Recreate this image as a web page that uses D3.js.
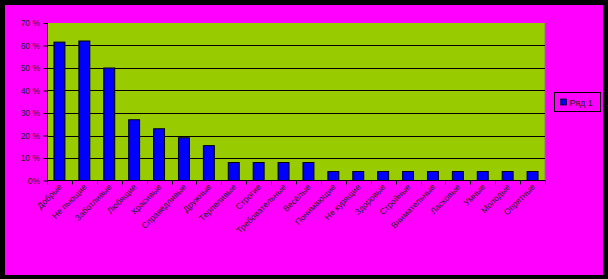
<!DOCTYPE html>
<html><head><meta charset="utf-8">
<script src="https://cdn.jsdelivr.net/npm/d3@7"></script>
<style>body{margin:0;background:#000;}svg{display:block;}</style>
</head><body>
<script>
const cats = ["Добрые","Не пьющие","Заботливые","Любящие","Красивые","Справедливые","Дружные","Терпеливые","Строгие","Требовательные","Весёлые","Понимающие","Не курящие","Здоровые","Стройные","Внимательные","Ласковые","Умные","Молодые","Опрятные"];
const values = [0.615,0.62,0.50,0.27,0.23,0.19,0.155,0.08,0.08,0.08,0.08,0.04,0.04,0.04,0.04,0.04,0.04,0.04,0.04,0.04];
const yTicks = [0,0.1,0.2,0.3,0.4,0.5,0.6,0.7];
const seriesName = "Ряд 1";

const W=608,H=279;
const svg=d3.select("body").append("svg").attr("width",W).attr("height",H);
svg.append("rect").attr("width",W).attr("height",H).attr("fill","#000");
svg.append("rect").attr("x",5).attr("y",5).attr("width",598).attr("height",270).attr("fill","#FF00FF");

const L=47,R=545,T=23,B=180.5;
const x=d3.scaleBand().domain(cats).range([L,R]).paddingInner(0.56).paddingOuter(0.28);
const y=d3.scaleLinear().domain([0,0.7]).range([B,T]);

svg.append("rect").attr("x",L).attr("y",T).attr("width",R-L).attr("height",B-T).attr("fill","#99CC00");
svg.append("line").attr("x1",R).attr("x2",R).attr("y1",T).attr("y2",B).attr("stroke","#808080");

svg.append("g").selectAll("line").data(yTicks.slice(1,-1)).join("line")
 .attr("x1",L).attr("x2",R).attr("y1",d=>Math.round(y(d))+0.5).attr("y2",d=>Math.round(y(d))+0.5)
 .attr("stroke","#000").attr("stroke-width",1);

svg.append("g").selectAll("rect").data(values).join("rect")
 .attr("x",(d,i)=>x(cats[i])).attr("width",x.bandwidth())
 .attr("y",d=>y(d)).attr("height",d=>B-y(d))
 .attr("fill","#0000FF").attr("stroke","#000").attr("stroke-width",1);

const yAxis=d3.axisLeft(y).tickValues(yTicks).tickSize(4).tickPadding(3).tickFormat(d=>d===0?"0%":Math.round(d*100)+" %");
const gy=svg.append("g").attr("transform",`translate(${L},0)`).call(yAxis);
gy.select(".domain").remove();
gy.selectAll("text").attr("font-family","Liberation Sans, Arial").attr("font-size",8.5).attr("fill","#222");

// bottom axis
const boundaries=d3.range(cats.length+1).map(i=>L+(R-L)*i/cats.length);
const gx=svg.append("g");
gx.append("line").attr("x1",L).attr("x2",R).attr("y1",B).attr("y2",B).attr("stroke","#000");
gx.selectAll("line.t").data(boundaries).join("line").attr("class","t")
 .attr("x1",d=>Math.round(d)+0.5).attr("x2",d=>Math.round(d)+0.5).attr("y1",B).attr("y2",B+4).attr("stroke","#000");
gx.selectAll("text").data(cats).join("text")
 .attr("transform",d=>`translate(${x(d)+x.bandwidth()/2+3},${B+7}) rotate(-45)`)
 .attr("text-anchor","end").attr("font-family","Liberation Sans, Arial").attr("font-size",8.5).attr("fill","#222")
 .text(d=>d);
svg.append("line").attr("x1",L+0.5).attr("x2",L+0.5).attr("y1",T).attr("y2",B).attr("stroke","#000");

// legend
const lg=svg.append("g").attr("transform","translate(554.5,92.5)");
lg.append("rect").attr("width",46).attr("height",19).attr("fill","#FF00FF").attr("stroke","#000");
lg.append("rect").attr("x",6).attr("y",6.5).attr("width",6).attr("height",6).attr("fill","#0000FF").attr("stroke","#000").attr("stroke-width",0.7);
lg.append("text").attr("x",15).attr("y",13).attr("font-family","Liberation Sans, Arial").attr("font-size",9).attr("fill","#222").text(seriesName);
</script>
</body></html>
